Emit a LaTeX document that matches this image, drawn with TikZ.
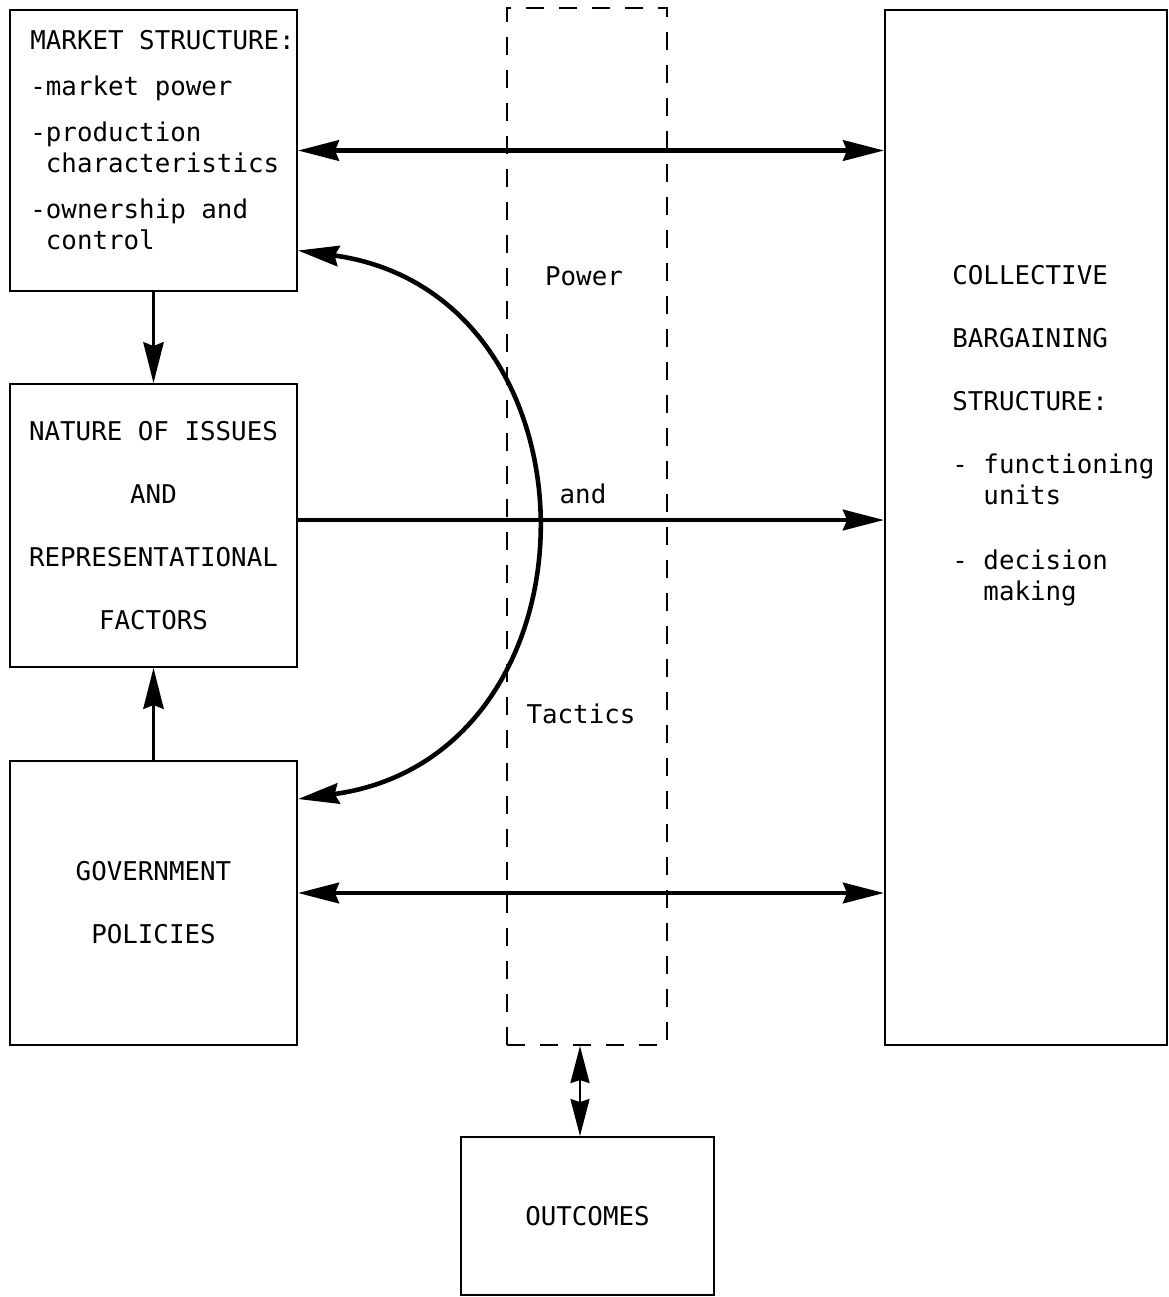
\documentclass[tikz,border=0pt]{standalone}
\usepackage{fontspec}
\newfontfamily\typefont{DejaVu Sans Mono}
\usetikzlibrary{arrows.meta}
\tikzset{
  box/.style={draw, line width=1.1pt, inner sep=0pt},
  txt/.style={font=\typefont\fontsize{14.7}{17.6}\selectfont, inner sep=0pt},
  wide/.style={font=\typefont\fontsize{14.7}{35.9}\selectfont, align=center},
  link/.style={line width=2.6pt},
}
\begin{document}
\begin{tikzpicture}[x=0.2mm,y=-0.2mm,>={Stealth[length=8.2mm,width=4.1mm,inset=0.8mm]}]
\useasboundingbox (0,0) rectangle (1169,1297);

% boxes on the left
\node[box,minimum width=57.4mm,minimum height=56.2mm] (mkt) at (153.5,150.5) {};
\node[box,wide,minimum width=57.4mm,minimum height=56.6mm] (iss) at (153.5,525.5)
  {NATURE OF ISSUES\\AND\\REPRESENTATIONAL\\FACTORS};
\node[box,wide,minimum width=57.4mm,minimum height=56.8mm] (gov) at (153.5,903)
  {GOVERNMENT\\POLICIES};

\node[txt,anchor=north west,align=left] (mkttext) at (30,30)
  {MARKET STRUCTURE:\\[3mm]-market power\\[3mm]-production\\\phantom{-}characteristics\\[3mm]-ownership and\\\phantom{-}control};

% right box
\node[box,minimum width=56.4mm,minimum height=207mm] (cbs) at (1026,527.5) {};
\node[txt,anchor=north west,align=left] (cbstext) at (952,265)
  {COLLECTIVE\\[6.4mm]BARGAINING\\[6.4mm]STRUCTURE:\\[6.4mm]- functioning\\\phantom{- }units\\[6.8mm]- decision\\\phantom{- }making};

% power and tactics
\node[draw,line width=1.1pt,dash pattern=on 3.6mm off 3mm,minimum width=32mm,minimum height=207.4mm] (pt) at (587,526.5) {};
\foreach \n/\x/\y/\word in {a/584/276/Power,b/583/494/and,c/581/714/Tactics}
{
    \node[txt] (pt\n) at (\x,\y) {\word};
}

\node[box,txt,minimum width=50.6mm,minimum height=31.6mm] (out) at (587.5,1216) {OUTCOMES};

% connectors
\draw[<->,link] (mkt.east) -- (mkt.east -| cbs.west);
\draw[->,link] ([yshift=1.1mm]iss.east) -- ([yshift=1.1mm]iss.east -| cbs.west);
\draw[<->,link] ([yshift=2mm]gov.east) -- ([yshift=2mm]gov.east -| cbs.west);

\draw[->,line width=1.4pt] (mkt.south) -- (iss.north);
\draw[->,line width=1.4pt] (gov.north) -- (iss.south);

\draw[<->,link] ([yshift=-20mm]mkt.east) .. controls +(312,42.5) and +(312,-42.5) .. ([yshift=-7.8mm]gov.north east);

\draw[{Stealth[length=7.4mm,width=3.8mm,inset=0.6mm]}-{Stealth[length=7.4mm,width=3.8mm,inset=0.6mm]},line width=1.4pt]
  ([xshift=-1.4mm]pt.south) -- ([xshift=-1.4mm]pt.south |- out.north);
\end{tikzpicture}
\end{document}
